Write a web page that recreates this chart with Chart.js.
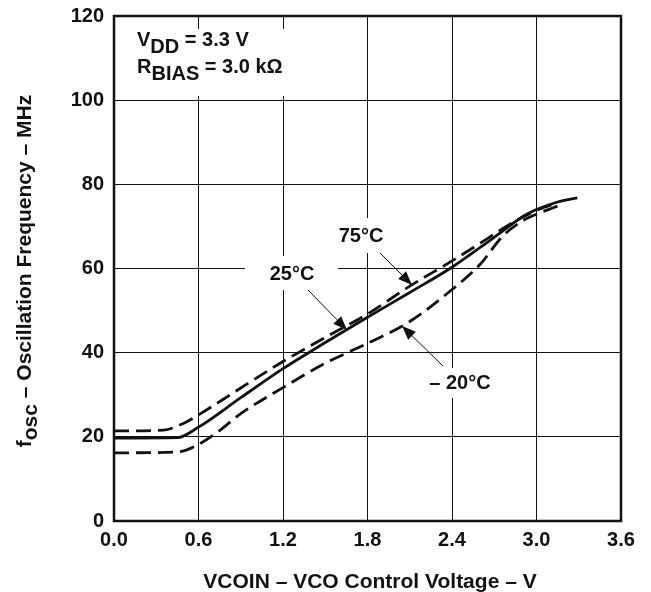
<!DOCTYPE html>
<html>
<head>
<meta charset="utf-8">
<script src="https://cdn.jsdelivr.net/npm/chart.js@4"></script>
<style>
  body { margin: 0; background: #fff; }
  canvas { display: block; }
</style>
</head>
<body>
<canvas id="vcoChart" width="651" height="592" style="width:651px;height:592px"></canvas>
<script>
// VCO control voltage (V) vs oscillation frequency (MHz)
const volt25 = [0, 0.45, 0.6, 0.9, 1.2, 1.5, 1.8, 2.1, 2.4, 2.6, 2.76, 2.9, 3.0, 3.15, 3.29];
const freq25 = [19.7, 19.8, 22.3, 29.3, 36.2, 42.4, 48.4, 54.3, 60.3, 65, 68.9, 72.3, 74, 75.8, 76.8];

const volt75 = [0, 0.35, 0.5, 0.6, 0.9, 1.2, 1.5, 1.8, 2.1, 2.4, 2.6, 2.8, 2.95, 3.05, 3.15];
const freq75 = [21.4, 21.6, 23.3, 25.2, 31.6, 37.9, 43.6, 49.2, 55.8, 61.8, 66, 70.3, 73, 74.5, 75.6];

const voltM20 = [0, 0.45, 0.6, 0.75, 0.9, 1.2, 1.5, 1.8, 2.1, 2.4, 2.6, 2.76, 2.9, 3.0, 3.1, 3.18];
const freqM20 = [16.2, 16.4, 18.2, 21.5, 25.5, 31.7, 37.5, 42.2, 47.4, 55, 61, 67.7, 71.3, 72.9, 74.2, 75.2];

const xTicks = [0, 0.6, 1.2, 1.8, 2.4, 3.0, 3.6];
const yTicks = [0, 20, 40, 60, 80, 100, 120];

const FONT = '"Liberation Sans", Arial, sans-serif';

function pts(xs, ys) {
  return xs.map((x, i) => ({ x: x, y: ys[i] }));
}

// draws text pieces with vertical offsets (for subscripts)
function richText(ctx, parts, x, y) {
  let cx = x;
  parts.forEach(p => {
    ctx.fillText(p[0], cx, y + p[1]);
    cx += ctx.measureText(p[0]).width;
  });
  return cx - x;
}

function arrow(ctx, x1, y1, x2, y2) {
  const ang = Math.atan2(y2 - y1, x2 - x1);
  const len = 14, half = 5.5;
  const bx = x2 - len * Math.cos(ang), by = y2 - len * Math.sin(ang);
  ctx.lineWidth = 1;
  ctx.beginPath();
  ctx.moveTo(x1, y1);
  ctx.lineTo(bx, by);
  ctx.stroke();
  ctx.beginPath();
  ctx.moveTo(x2, y2);
  ctx.lineTo(bx + half * Math.sin(ang), by - half * Math.cos(ang));
  ctx.lineTo(bx - half * Math.sin(ang), by + half * Math.cos(ang));
  ctx.closePath();
  ctx.fill();
}

const notes = {
  id: 'notes',
  beforeDatasetsDraw(chart) {
    const ctx = chart.ctx;
    ctx.save();
    ctx.fillStyle = '#fff';
    ctx.fillRect(116, 29, 186, 67);
    ctx.fillRect(245, 256, 93, 34);
    ctx.fillRect(333, 218, 60, 35);
    ctx.fillRect(418, 368, 84, 30);

    ctx.fillStyle = '#111';
    ctx.strokeStyle = '#111';
    ctx.textBaseline = 'alphabetic';
    ctx.textAlign = 'left';
    ctx.font = '700 20px ' + FONT;
    richText(ctx, [['V', 0], ['DD', 7], [' = 3.3 V', 0]], 137, 46);
    richText(ctx, [['R', 0], ['BIAS', 7], [' = 3.0 k\u03A9', 0]], 137, 73);

    ctx.textAlign = 'center';
    ctx.textBaseline = 'middle';
    ctx.fillText('75\u00B0C', 361, 236);
    ctx.fillText('25\u00B0C', 292, 274);
    ctx.fillText('\u2013 20\u00B0C', 460, 383);

    arrow(ctx, 380, 253, 412, 285);
    arrow(ctx, 308, 290, 347, 330);
    arrow(ctx, 443, 366, 402, 326);
    ctx.restore();
  },
  afterDraw(chart) {
    const ctx = chart.ctx;
    const a = chart.chartArea;
    ctx.save();
    ctx.strokeStyle = '#111';
    ctx.lineWidth = 2.5;
    ctx.strokeRect(a.left, a.top, a.right - a.left, a.bottom - a.top);

    ctx.fillStyle = '#111';
    ctx.font = '700 21px ' + FONT;
    ctx.textAlign = 'center';
    ctx.textBaseline = 'middle';
    ctx.fillText('VCOIN \u2013 VCO Control Voltage \u2013 V', 370, 582);

    // rotated y title with subscript
    ctx.translate(24, 271);
    ctx.rotate(-Math.PI / 2);
    ctx.textAlign = 'left';
    ctx.textBaseline = 'alphabetic';
    const parts = [['f', 0], ['osc', 6], [' \u2013 Oscillation Frequency \u2013 MHz', 0]];
    let w = 0;
    parts.forEach(p => { w += ctx.measureText(p[0]).width; });
    richText(ctx, parts, -w / 2, 7);
    ctx.restore();
  }
};

const lineStyle = {
  borderColor: '#111',
  borderWidth: 2.8,
  pointRadius: 0,
  fill: false,
  cubicInterpolationMode: 'monotone'
};

new Chart(document.getElementById('vcoChart'), {
  type: 'line',
  data: {
    datasets: [
      Object.assign({ label: '25°C', data: pts(volt25, freq25) }, lineStyle),
      Object.assign({ label: '75°C', data: pts(volt75, freq75), borderDash: [15, 7] }, lineStyle),
      Object.assign({ label: '-20°C', data: pts(voltM20, freqM20), borderDash: [15, 7] }, lineStyle)
    ]
  },
  options: {
    responsive: false,
    animation: false,
    layout: { padding: { left: 0, right: 30, top: 16, bottom: 0 } },
    plugins: {
      legend: { display: false },
      tooltip: { enabled: false }
    },
    scales: {
      x: {
        type: 'linear',
        min: 0,
        max: 3.6,
        afterBuildTicks(scale) { scale.ticks = xTicks.map(v => ({ value: v })); },
        afterFit(scale) {
          scale.height = 71;
          scale.paddingLeft = 0;
          scale.paddingRight = 0;
        },
        grid: { color: '#111', lineWidth: 1, drawTicks: false },
        border: { display: false },
        ticks: {
          color: '#111',
          padding: 7,
          maxRotation: 0,
          autoSkip: false,
          font: { family: FONT, size: 20, weight: '700' },
          callback: v => v.toFixed(1)
        }
      },
      y: {
        min: 0,
        max: 120,
        afterBuildTicks(scale) { scale.ticks = yTicks.map(v => ({ value: v })); },
        afterFit(scale) {
          scale.width = 114;
          scale.paddingTop = 0;
          scale.paddingBottom = 0;
        },
        grid: { color: '#111', lineWidth: 1, drawTicks: false },
        border: { display: false },
        ticks: {
          color: '#111',
          padding: 10,
          font: { family: FONT, size: 20, weight: '700' }
        }
      }
    }
  },
  plugins: [notes]
});
</script>
</body>
</html>
